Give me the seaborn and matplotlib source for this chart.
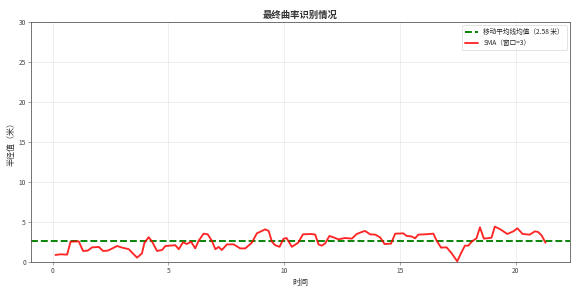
import matplotlib
matplotlib.use("Agg")
import matplotlib.pyplot as plt
import seaborn as sns
import pandas as pd

time = [0.13, 0.34, 0.63, 0.78, 1.13, 1.32, 1.52, 1.71, 2.0, 2.18, 2.39, 2.79, 3.0, 3.29,
        3.65, 3.86, 3.97, 4.15, 4.3, 4.51, 4.73, 4.87, 5.3, 5.45, 5.63, 5.8, 5.98, 6.16,
        6.31, 6.52, 6.7, 6.88, 7.03, 7.17, 7.31, 7.53, 7.82, 8.1, 8.32, 8.6, 8.82, 9.18,
        9.33, 9.47, 9.61, 9.8, 9.97, 10.1, 10.33, 10.6, 10.81, 11.19, 11.34, 11.48, 11.62,
        11.77, 11.95, 12.13, 12.34, 12.63, 12.92, 13.13, 13.35, 13.49, 13.71, 13.93, 14.14,
        14.33, 14.61, 14.79, 15.14, 15.29, 15.5, 15.65, 15.79, 16.08, 16.44, 16.58, 16.77,
        17.01, 17.23, 17.47, 17.63, 17.8, 17.95, 18.09, 18.3, 18.45, 18.62, 18.95, 19.09,
        19.31, 19.63, 19.89, 20.07, 20.29, 20.6, 20.82, 20.96, 21.11, 21.28]
sma = [0.88, 0.96, 0.92, 2.54, 2.58, 1.38, 1.42, 1.83, 1.88, 1.38, 1.42, 2.0, 1.8, 1.6,
       0.54, 1.08, 2.4, 3.1, 2.54, 1.38, 1.5, 2.0, 2.1, 1.6, 2.46, 2.25, 2.54, 1.7,
       2.67, 3.54, 3.46, 2.63, 1.6, 1.88, 1.5, 2.2, 2.2, 1.7, 1.7, 2.4, 3.58, 4.08,
       3.88, 2.54, 2.1, 1.9, 2.9, 3.0, 1.9, 2.4, 3.46, 3.5, 3.42, 2.2, 2.04,
       2.33, 3.25, 3.08, 2.83, 3.0, 2.92, 3.5, 3.75, 3.88, 3.46, 3.42, 3.08,
       2.25, 2.29, 3.54, 3.58, 3.25, 3.2, 2.96, 3.42, 3.46, 3.54, 2.67, 1.8,
       1.83, 1.08, 0.08, 1.08, 2.04, 2.04, 2.54, 2.96, 4.33, 2.92, 3.04, 4.42,
       4.12, 3.5, 3.83, 4.21, 3.5, 3.42, 3.83, 3.75, 3.33, 2.4]
mean_value = 2.58
y_ticks = [0, 5, 10, 15, 20, 25, 30]

sns.set_style("whitegrid")
plt.rcParams['font.family'] = ['Noto Sans CJK SC', 'DejaVu Sans']
plt.rcParams['axes.unicode_minus'] = False

fig = plt.figure(figsize=(581/48, 288/48), dpi=48)
ax = fig.add_axes([0.0534, 0.0903, 0.9277, 0.8333])

df = pd.DataFrame({"时间": time, "SMA": sma})
ax.axhline(mean_value, color="green", linestyle="--", linewidth=2.8,
           label=f"移动平均线均值（{mean_value} 米）")
sns.lineplot(data=df, x="时间", y="SMA", ax=ax, color="red", alpha=0.85, linewidth=2.8,
             label="SMA（窗口=3）")

ax.set_ylim(0, 30)
ax.set_yticks(y_ticks)
ax.set_xticks([0, 5, 10, 15, 20])
ax.set_title("最终曲率识别情况", fontsize=14, fontweight="bold", color="#333333")
ax.set_xlabel("时间", fontsize=12, color="#333333")
ax.set_ylabel("半径值（米）", fontsize=12, color="#333333")
ax.tick_params(axis="both", labelsize=10, length=4, color="#555555", labelcolor="#444444",
               left=True, bottom=True)
ax.grid(True, color="#e6e6e6", linewidth=1)
for s in ax.spines.values():
    s.set_color("#555555")
    s.set_linewidth(1.2)
ax.legend(loc="upper right", fontsize=10, frameon=True)

fig.savefig("out.png", dpi=48)
